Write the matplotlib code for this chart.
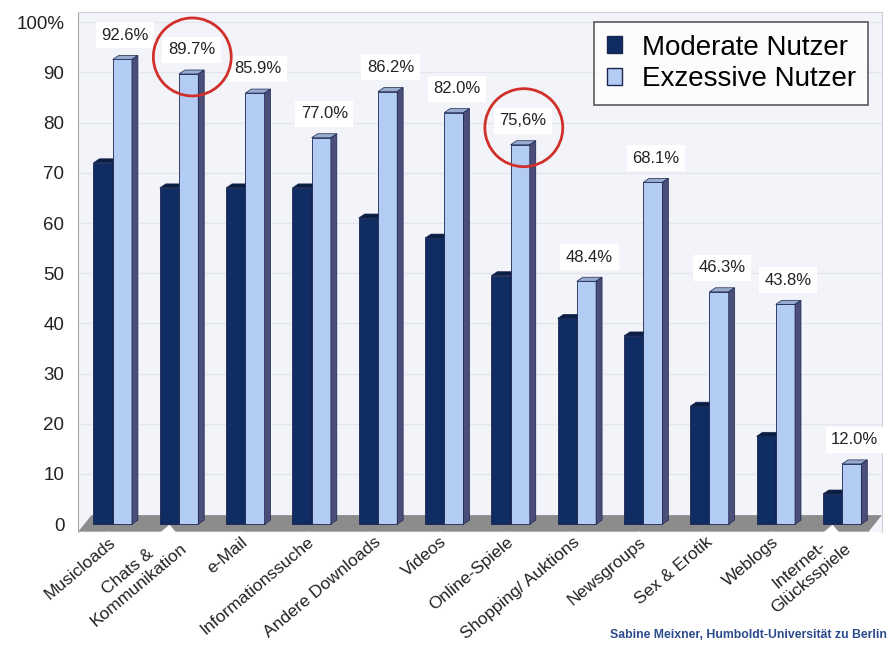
import numpy as np
import matplotlib
matplotlib.use("Agg")
import matplotlib.pyplot as plt
from matplotlib.patches import Polygon, Ellipse

plt.rcParams['font.family'] = ['Liberation Sans', 'DejaVu Sans']

# Daten
kategorien = ['Musicloads', 'Chats &\nKommunikation', 'e-Mail', 'Informationssuche',
              'Andere Downloads', 'Videos', 'Online-Spiele', 'Shopping/ Auktions',
              'Newsgroups', 'Sex & Erotik', 'Weblogs', 'Internet-\nGlücksspiele']
moderat = [72.0, 67.0, 67.0, 67.0, 61.0, 57.0, 49.5, 41.0, 37.5, 23.5, 17.5, 6.0]
exzessiv = [92.6, 89.7, 85.9, 77.0, 86.2, 82.0, 75.6, 48.4, 68.1, 46.3, 43.8, 12.0]
beschriftung = ['92.6%', '89.7%', '85.9%', '77.0%', '86.2%', '82.0%', '75,6%',
                '48.4%', '68.1%', '46.3%', '43.8%', '12.0%']
markiert = [1, 6]  # rot eingekreiste Werte
y_ticks = [0, 10, 20, 30, 40, 50, 60, 70, 80, 90, 100]
y_tick_labels = ['0', '10', '20', '30', '40', '50', '60', '70', '80', '90', '100%']

# Farben
dunkel = '#0f2d63'
dunkel_top = '#0a1d45'
hell = '#b3ccf4'
hell_top = '#98acd0'
seite = '#4b4e78'

fig = plt.figure(figsize=(8.89, 6.46), dpi=100)
fig.patch.set_facecolor('white')
ax = fig.add_axes([0.088, 0.177, 0.904, 0.804])
ax.set_facecolor('#f3f4fa')

x = np.arange(len(kategorien))
w = 0.29
dx, dy = 0.09, 0.8

ax.set_xlim(-0.53, 11.59)
ax.set_ylim(-1.5, 102)

# Gitter
for t in y_ticks[1:]:
    ax.axhline(t, color='#e4e6ee', lw=1.0, zorder=0)

# Boden
x0, x1 = ax.get_xlim()
boden = Polygon([(x0, -1.5), (x1 - 0.2, -1.5), (x1, 1.8), (x0 + 0.2, 1.8)],
                closed=True, facecolor='#8c8c8c', edgecolor='none', zorder=1)
ax.add_patch(boden)


def balken_3d(xl, h, farbe, top, seitenfarbe, z):
    ax.bar(xl, h, w, align='edge', color=farbe, edgecolor='#1a2550', lw=0.6, zorder=z)
    xr = xl + w
    ax.add_patch(Polygon([(xl, h), (xr, h), (xr + dx, h + dy), (xl + dx, h + dy)],
                         closed=True, facecolor=top, edgecolor='#1a2550', lw=0.5, zorder=z))
    ax.add_patch(Polygon([(xr, 0), (xr + dx, dy), (xr + dx, h + dy), (xr, h)],
                         closed=True, facecolor=seitenfarbe, edgecolor='#1a2550', lw=0.5, zorder=z))


for i in range(len(kategorien)):
    balken_3d(x[i] - 0.30, moderat[i], dunkel, dunkel_top, '#101c40', 2)
    balken_3d(x[i] - 0.01, exzessiv[i], hell, hell_top, seite, 3)
    ax.text(x[i] + 0.18, exzessiv[i] + 4.8, beschriftung[i], ha='center', va='center',
            fontsize=12, color='#222222', zorder=5,
            bbox=dict(facecolor='white', edgecolor='none', pad=4))

# rote Kreise
px_x = 66.4
px_y = 5.02
for i in markiert:
    e = Ellipse((x[i] + 0.19, exzessiv[i] + 3.4), 2 * 39 / px_x, 2 * 39 / px_y,
                facecolor='none', edgecolor='#d0302a', lw=2.0, zorder=6)
    ax.add_patch(e)

# Achsen
ax.set_yticks(y_ticks)
ax.set_yticklabels(y_tick_labels, fontsize=13.5, color='#222222')
ax.tick_params(axis='y', length=0, pad=10)
ax.set_xticks(x)
ax.set_xticklabels(kategorien, rotation=40, ha='right', va='center', rotation_mode='anchor',
                   fontsize=12.5, color='#222222', multialignment='center')
ax.tick_params(axis='x', length=0, pad=6)
for lbl in ax.get_xticklabels():
    lbl.set_bbox(dict(facecolor='white', edgecolor='none', pad=1.5))
    lbl.set_zorder(4)

for s in ['top', 'right']:
    ax.spines[s].set_color('#cfd0d6')
ax.spines['left'].set_color('#a8a8b0')
ax.spines['bottom'].set_visible(False)

# Legende
leg = ax.legend(handles=[plt.Rectangle((0, 0), 1, 1, facecolor=dunkel, edgecolor='#1a2550'),
                         plt.Rectangle((0, 0), 1, 1, facecolor=hell, edgecolor='#1a2550')],
                labels=['Moderate Nutzer', 'Exzessive Nutzer'], loc='upper right',
                bbox_to_anchor=(0.983, 0.981), borderaxespad=0, fontsize=20, frameon=True,
                fancybox=False, handlelength=0.55, handleheight=0.55, handletextpad=0.7,
                borderpad=0.45, labelspacing=0.2)
leg.get_frame().set_edgecolor('#333333')
leg.get_frame().set_linewidth(1.2)
leg.set_zorder(7)

fig.text(0.998, 0.008, 'Sabine Meixner, Humboldt-Universität zu Berlin', ha='right',
         va='bottom', fontsize=8.8, fontweight='bold', color='#2b4a8c')

fig.savefig('out.png', dpi=100)
